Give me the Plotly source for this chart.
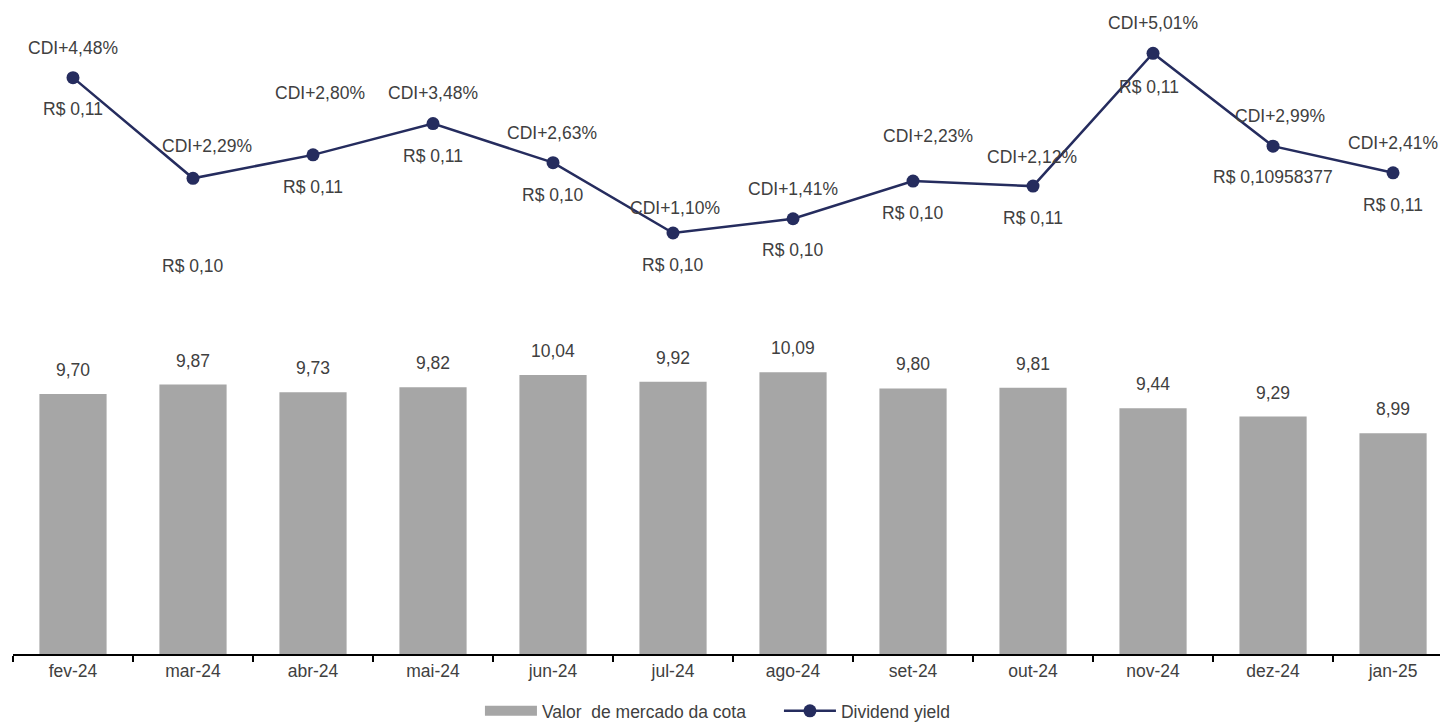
import plotly.graph_objects as go

# ---- data ----
months = ["fev-24", "mar-24", "abr-24", "mai-24", "jun-24", "jul-24",
          "ago-24", "set-24", "out-24", "nov-24", "dez-24", "jan-25"]
market_value = [9.70, 9.87, 9.73, 9.82, 10.04, 9.92, 10.09, 9.80, 9.81, 9.44, 9.29, 8.99]
cdi_spread = [4.48, 2.29, 2.80, 3.48, 2.63, 1.10, 1.41, 2.23, 2.12, 5.01, 2.99, 2.41]
dividend_labels = ["R$ 0,11", "R$ 0,10", "R$ 0,11", "R$ 0,11", "R$ 0,10", "R$ 0,10",
                   "R$ 0,10", "R$ 0,10", "R$ 0,11", "R$ 0,11", "R$ 0,10958377", "R$ 0,11"]

# ---- label placement (styling, pixels) ----
cdi_dy = [30, 32, 62, 31, 30, 25, 30, 45, 29, 30, 30, 30]
cdi_dx = [0, 14, 7, 0, -1, 2, 0, 15, -1, 0, 7, 0]
rs_dy = [31, 88, 32, 32, 32, 32, 31, 32, 32, 34, 31, 32]
rs_dx = [0, 0, 0, 0, 0, 0, 0, 0, 0, -4, 0, 0]

FONT = "Liberation Sans, Arial, sans-serif"
FS = 17.5
TXT = "#404040"
BAR = "#a6a6a6"
LINE = "#252c5e"

def br(v, d=2):
    return f"{v:.{d}f}".replace(".", ",")

fig = go.Figure()
fig.add_trace(go.Bar(
    x=months, y=market_value, name="Valor\u00a0 de mercado da cota",
    marker=dict(color=BAR, line=dict(width=0)), width=0.56, yaxis="y",
    showlegend=False,
))
# legend entry for the bars (wide grey swatch)
fig.add_trace(go.Scatter(
    x=[None], y=[None], name="Valor\u00a0 de mercado da cota", mode="lines",
    line=dict(color=BAR, width=12), yaxis="y",
))
fig.add_trace(go.Scatter(
    x=months, y=cdi_spread, name="Dividend yield", mode="lines+markers",
    line=dict(color=LINE, width=2.5), marker=dict(color=LINE, size=13),
    yaxis="y2",
))

ann = []
for m, v in zip(months, market_value):
    ann.append(dict(x=m, y=v, xref="x", yref="y", text=br(v), showarrow=False,
                    yanchor="middle", yshift=24, font=dict(size=FS, color=TXT, family=FONT)))
for i, (m, v) in enumerate(zip(months, cdi_spread)):
    ann.append(dict(x=m, y=v, xref="x", yref="y2", text="CDI+" + br(v) + "%", showarrow=False,
                    yanchor="middle", yshift=cdi_dy[i], xshift=cdi_dx[i],
                    font=dict(size=FS, color=TXT, family=FONT)))
    ann.append(dict(x=m, y=v, xref="x", yref="y2", text=dividend_labels[i], showarrow=False,
                    yanchor="middle", yshift=-rs_dy[i], xshift=rs_dx[i],
                    font=dict(size=FS, color=TXT, family=FONT)))

fig.update_layout(
    width=1448, height=722,
    margin=dict(l=5, r=8, t=3, b=76, autoexpand=False),
    paper_bgcolor="white", plot_bgcolor="white",
    font=dict(family=FONT, size=FS, color=TXT),
    showlegend=True,
    legend=dict(orientation="h", x=0.3254, xanchor="left", y=-0.0886, yanchor="middle",
                font=dict(size=FS, color=TXT, family=FONT), itemwidth=52,
                entrywidth=232, entrywidthmode="pixels",
                traceorder="normal", bgcolor="rgba(0,0,0,0)"),
    xaxis=dict(range=[-0.5, 11.458], showline=True, linecolor="black", linewidth=1.5,
               ticks="outside", tickson="boundaries", ticklen=6, tickcolor="black", tickwidth=1.5,
               showgrid=False, tickfont=dict(size=FS, color=TXT, family=FONT), automargin=False),
    yaxis=dict(range=[5, 16.62], visible=False, showgrid=False),
    yaxis2=dict(range=[-8.06, 5.93], overlaying="y", visible=False, showgrid=False),
    annotations=ann,
    hovermode=False,
)

fig.write_html("out.html")
